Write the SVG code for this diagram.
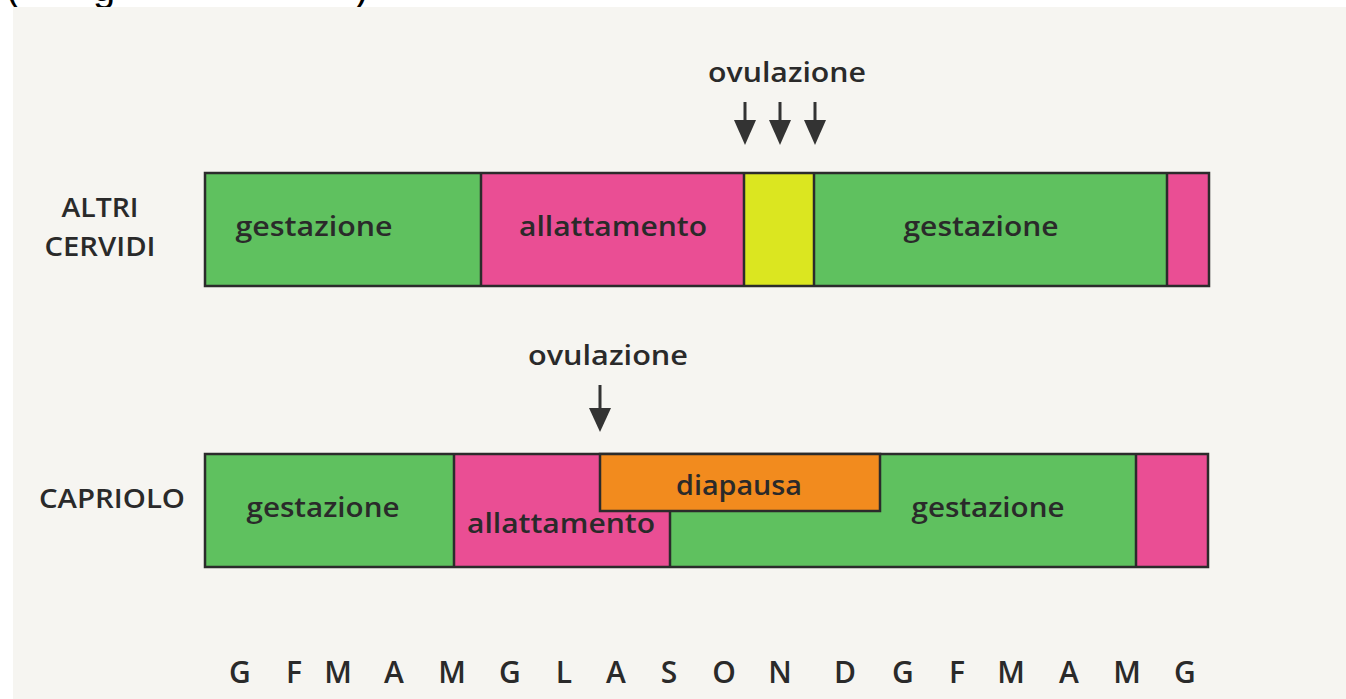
<svg xmlns="http://www.w3.org/2000/svg" width="1346" height="699" viewBox="0 0 1346 699">
  <style>
    .bg { fill: #f6f5f1; }
    .frag { font-family: "Liberation Sans", Arial, sans-serif; font-size: 40px; fill: #000; }
    .seg { stroke: none; }
    .green { fill: #5fc15f; }
    .pink { fill: #ea4e94; }
    .yellow { fill: #dbe620; }
    .orange { fill: #f28b1e; stroke: #2b2b2b; stroke-width: 2.5; }
    .frame { fill: none; stroke: #2b2b2b; stroke-width: 2.5; }
    .div { stroke: #2b2b2b; stroke-width: 2.5; }
    .lbl { font-family: "Open Sans", "DejaVu Sans", sans-serif; font-weight: 600; fill: #2a2a2a; }
    .bar { font-size: 27px; text-anchor: middle; }
    .row { font-size: 27px; text-anchor: middle; }
    .mon { font-size: 30px; text-anchor: middle; }
    .arrow { stroke: #333; stroke-width: 3; }
    .head { fill: #333; }
  </style>

  <!-- cropped caption fragment at the very top -->
  <text class="frag" y="1"><tspan x="6">(</tspan><tspan x="93">g</tspan><tspan x="355">)</tspan></text>
  <rect class="bg" x="13" y="7" width="1333" height="692"/>

  <g id="label-altri">
    <text class="lbl row" x="100" y="217" textLength="77" lengthAdjust="spacingAndGlyphs">ALTRI</text>
    <text class="lbl row" x="100" y="256" textLength="111" lengthAdjust="spacingAndGlyphs">CERVIDI</text>
  </g>
  <g id="label-capriolo">
    <text class="lbl row" x="112" y="508" textLength="146" lengthAdjust="spacingAndGlyphs">CAPRIOLO</text>
  </g>

  <g id="bar-altri">
    <rect class="seg green" x="205" y="173" width="276" height="113"/>
    <rect class="seg pink" x="481" y="173" width="263" height="113"/>
    <rect class="seg yellow" x="744" y="173" width="70" height="113"/>
    <rect class="seg green" x="814" y="173" width="353" height="113"/>
    <rect class="seg pink" x="1167" y="173" width="42" height="113"/>
    <line class="div" x1="481" y1="173" x2="481" y2="286"/>
    <line class="div" x1="744" y1="173" x2="744" y2="286"/>
    <line class="div" x1="814" y1="173" x2="814" y2="286"/>
    <line class="div" x1="1167" y1="173" x2="1167" y2="286"/>
    <rect class="frame" x="205" y="173" width="1004" height="113"/>
    <text class="lbl bar" x="314" y="236" textLength="157" lengthAdjust="spacingAndGlyphs">gestazione</text>
    <text class="lbl bar" x="613" y="236" textLength="188" lengthAdjust="spacingAndGlyphs">allattamento</text>
    <text class="lbl bar" x="981" y="236" textLength="155" lengthAdjust="spacingAndGlyphs">gestazione</text>
  </g>

  <g id="bar-capriolo">
    <rect class="seg green" x="205" y="454" width="249" height="113"/>
    <rect class="seg pink" x="454" y="454" width="216" height="113"/>
    <rect class="seg green" x="670" y="454" width="466" height="113"/>
    <rect class="seg pink" x="1136" y="454" width="72" height="113"/>
    <line class="div" x1="454" y1="454" x2="454" y2="567"/>
    <line class="div" x1="670" y1="511" x2="670" y2="567"/>
    <line class="div" x1="1136" y1="454" x2="1136" y2="567"/>
    <rect class="frame" x="205" y="454" width="1003" height="113"/>
    <rect class="orange" x="600" y="454" width="280" height="57"/>
    <text class="lbl bar" x="323" y="517" textLength="153" lengthAdjust="spacingAndGlyphs">gestazione</text>
    <text class="lbl bar" x="561" y="533" textLength="188" lengthAdjust="spacingAndGlyphs">allattamento</text>
    <text class="lbl bar" x="739" y="495" textLength="126" lengthAdjust="spacingAndGlyphs">diapausa</text>
    <text class="lbl bar" x="988" y="517" textLength="153" lengthAdjust="spacingAndGlyphs">gestazione</text>
  </g>

  <g id="ovulazione-altri">
    <text class="lbl bar" x="787" y="82" textLength="158" lengthAdjust="spacingAndGlyphs">ovulazione</text>
  </g>
  <g id="ovulazione-capriolo">
    <text class="lbl bar" x="608" y="365" textLength="160" lengthAdjust="spacingAndGlyphs">ovulazione</text>
  </g>

  <g id="connectors">
    <line class="arrow" x1="745" y1="102" x2="745" y2="124"/>
    <polygon class="head" points="734,120 756,120 745,145"/>
    <line class="arrow" x1="780" y1="102" x2="780" y2="124"/>
    <polygon class="head" points="769,120 791,120 780,145"/>
    <line class="arrow" x1="815" y1="102" x2="815" y2="124"/>
    <polygon class="head" points="804,120 826,120 815,145"/>
    <line class="arrow" x1="600" y1="385" x2="600" y2="412"/>
    <polygon class="head" points="589,408 611,408 600,432"/>
  </g>

  <g id="months">
    <text class="lbl mon" y="683">
      <tspan x="240">G</tspan><tspan x="294">F</tspan><tspan x="338">M</tspan><tspan x="394">A</tspan><tspan x="452">M</tspan><tspan x="510">G</tspan><tspan x="564">L</tspan><tspan x="616">A</tspan><tspan x="669">S</tspan><tspan x="724">O</tspan><tspan x="780">N</tspan><tspan x="845">D</tspan><tspan x="903">G</tspan><tspan x="957">F</tspan><tspan x="1011">M</tspan><tspan x="1069">A</tspan><tspan x="1127">M</tspan><tspan x="1185">G</tspan>
    </text>
  </g>
</svg>
